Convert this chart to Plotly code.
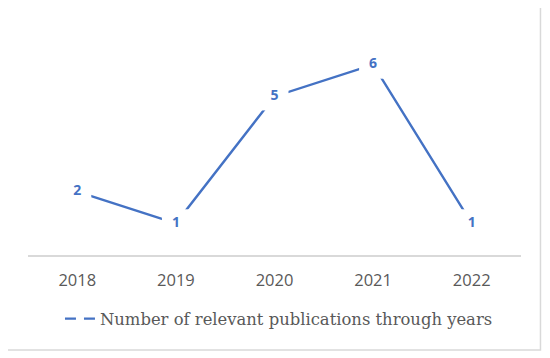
import plotly.graph_objects as go

years = ["2018", "2019", "2020", "2021", "2022"]
publications = [2, 1, 5, 6, 1]
series_name = "Number of relevant publications through years"

BLUE = "#4472C4"
GRAY_TXT = "#595959"
GRID = "#d9d9d9"

fig = go.Figure()

fig.add_trace(go.Scatter(
    x=years, y=publications,
    mode="lines+markers+text",
    line=dict(color=BLUE, width=2.4),
    marker=dict(symbol="square", size=28, color="white", line=dict(width=0)),
    text=[str(v) for v in publications],
    textposition="middle center",
    textfont=dict(family="Open Sans", size=14, color=BLUE, weight="bold"),
    showlegend=False,
    hoverinfo="skip",
    cliponaxis=False,
))

fig.add_trace(go.Scatter(
    x=[None], y=[None],
    mode="lines",
    name=series_name,
    line=dict(color=BLUE, width=2.4, dash="11px,8px"),
    showlegend=True,
))

# page body has an 8px margin, so work in page pixels minus 8
OFF = 8
W, H = 542, 350
L = 28 - OFF
T = 33 - OFF
R = W - (521.5 - OFF)
B = H - (255 - OFF)
pw = W - L - R
ph = H - T - B

def px_to_paper_x(px):
    return (px - OFF - L) / pw

def px_to_paper_y(py):
    return (H - B - (py - OFF)) / ph

fig.add_shape(
    type="rect", xref="paper", yref="paper",
    x0=px_to_paper_x(7), x1=px_to_paper_x(541),
    y0=px_to_paper_y(350), y1=px_to_paper_y(5),
    line=dict(color=GRID, width=1.5), fillcolor="rgba(0,0,0,0)",
    layer="below",
)

fig.update_layout(
    width=W, height=H,
    margin=dict(l=L, r=R, t=T, b=B, pad=0),
    paper_bgcolor="white", plot_bgcolor="white",
    showlegend=True,
    legend=dict(
        orientation="h",
        x=px_to_paper_x(60), xanchor="left",
        y=px_to_paper_y(319), yanchor="middle",
        font=dict(family="DejaVu Serif", size=16.4, color=GRAY_TXT),
        bgcolor="rgba(0,0,0,0)",
        itemclick=False,
    ),
    xaxis=dict(
        type="category",
        range=[-0.5, 4.5],
        showline=True, linecolor=GRID, linewidth=1.5,
        showgrid=False, zeroline=False, ticks="",
        tickfont=dict(family="Open Sans", size=16.5, color=GRAY_TXT),
        ticklabelstandoff=9,
        fixedrange=True,
    ),
    yaxis=dict(
        range=[0, 7],
        showticklabels=False, showgrid=False, zeroline=False, showline=False,
        fixedrange=True,
    ),
)

fig.write_html("out.html")
